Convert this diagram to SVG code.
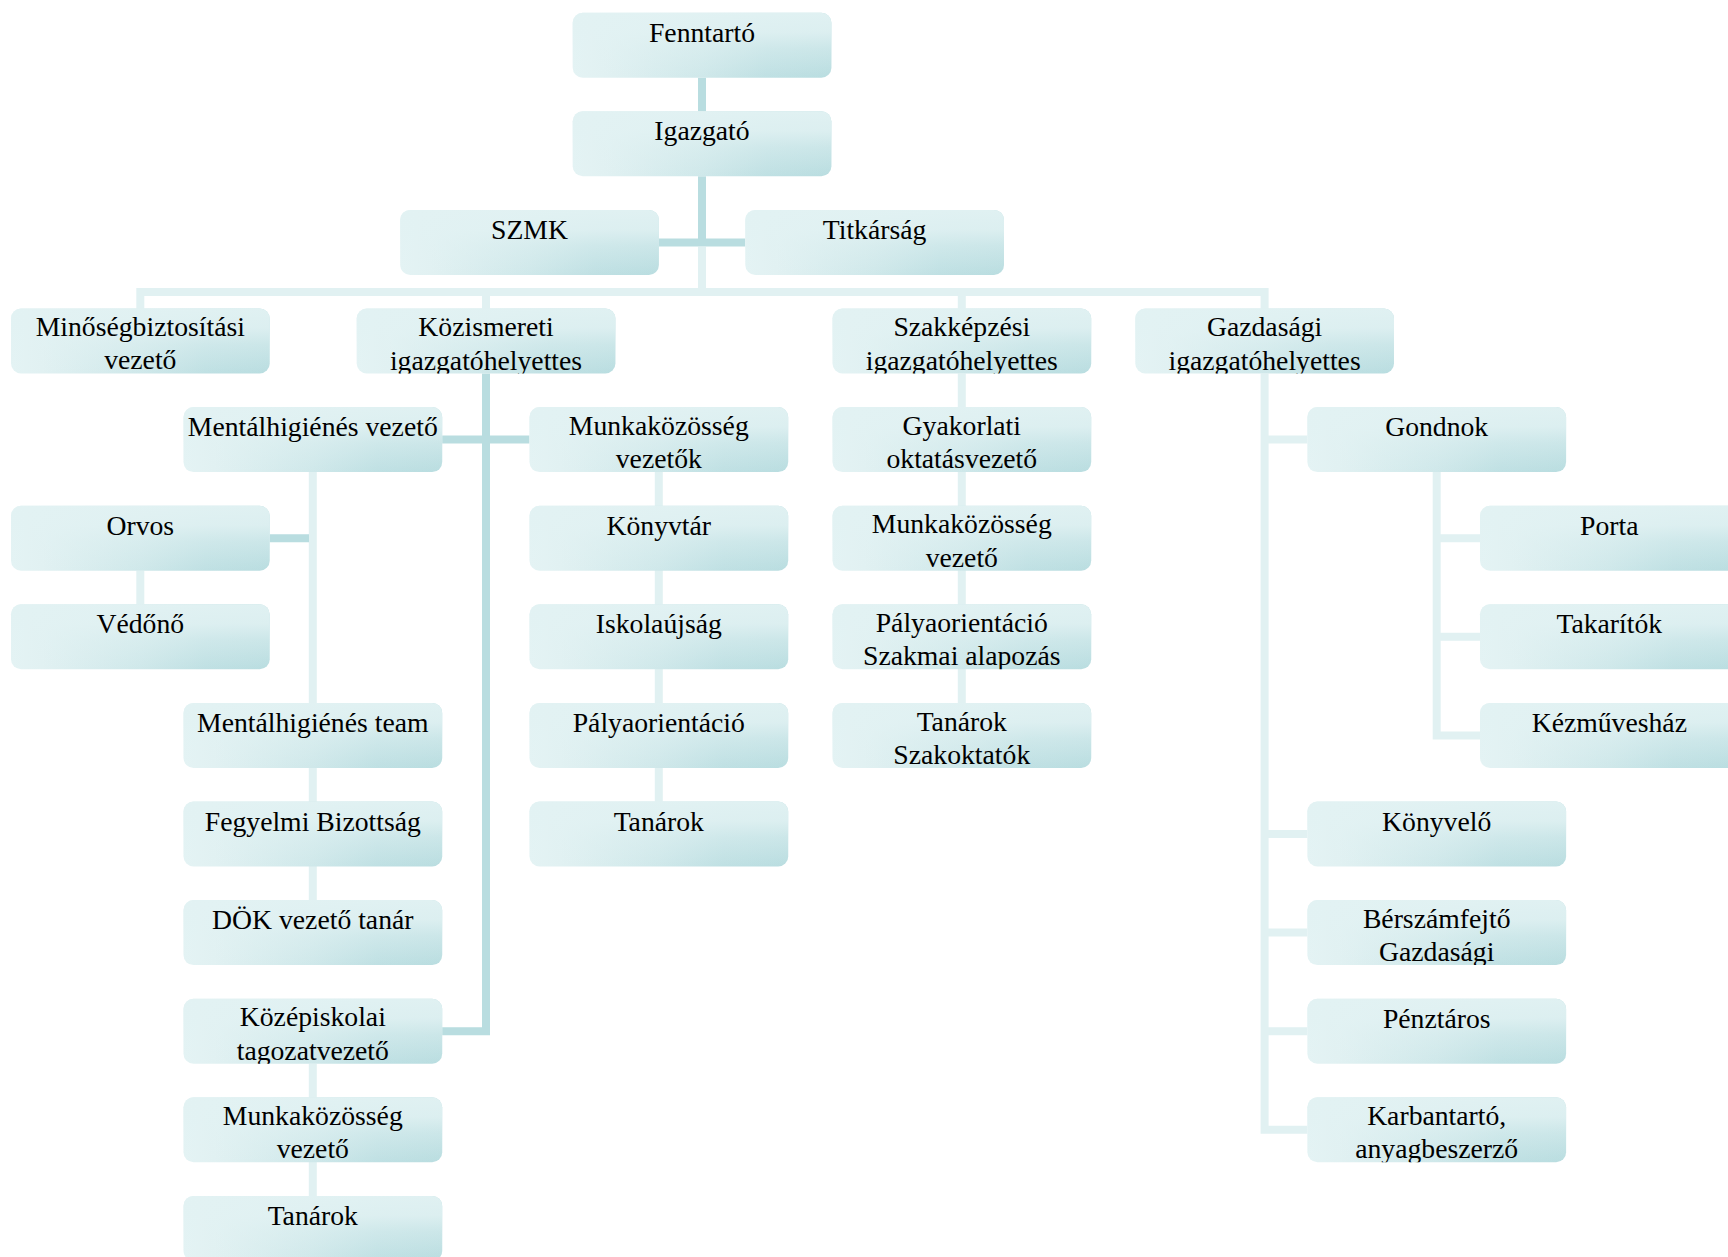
<svg xmlns="http://www.w3.org/2000/svg" width="1728" height="1257" viewBox="0 0 1728 1257">
<style>
.bx{fill:url(#gH)}
.sh{fill:url(#gV)}
.t{font-family:"Liberation Serif","Times New Roman",serif;font-size:27.7px;fill:#000;text-anchor:middle}
.dk{fill:none;stroke:#b9dde0;stroke-width:8;stroke-linejoin:miter}
.lt{fill:none;stroke:#e1f1f2;stroke-width:8;stroke-linejoin:miter}
</style>
<defs>
<linearGradient id="gH" x1="0" y1="0" x2="1" y2="0">
<stop offset="0" stop-color="#e4f3f4"/>
<stop offset="0.12" stop-color="#e1f1f2"/>
<stop offset="0.5" stop-color="#cfe8ea"/>
<stop offset="0.75" stop-color="#bfe0e3"/>
<stop offset="1" stop-color="#b9dde0"/>
</linearGradient>
<linearGradient id="gV" x1="0" y1="0" x2="0" y2="1">
<stop offset="0" stop-color="#e2f2f3" stop-opacity="0.95"/>
<stop offset="0.3" stop-color="#e2f2f3" stop-opacity="0.85"/>
<stop offset="0.55" stop-color="#e2f2f3" stop-opacity="0.45"/>
<stop offset="1" stop-color="#e2f2f3" stop-opacity="0"/>
</linearGradient>
<clipPath id="c6"><rect x="356.7" y="308.5" width="258.7" height="65"/></clipPath>
<clipPath id="c7"><rect x="832.5" y="308.5" width="258.7" height="65"/></clipPath>
<clipPath id="c8"><rect x="1135.3" y="308.5" width="258.7" height="65"/></clipPath>
<clipPath id="c19"><rect x="832.5" y="604.3" width="258.7" height="65"/></clipPath>
<clipPath id="c29"><rect x="1307.4" y="900.1" width="258.7" height="65"/></clipPath>
<clipPath id="c30"><rect x="183.5" y="998.7" width="258.7" height="65"/></clipPath>
<clipPath id="c33"><rect x="1307.4" y="1097.3" width="258.7" height="65"/></clipPath>
</defs>
<rect x="0" y="0" width="1728" height="1257" fill="#ffffff"/>

<g id="connectors">
<path class="dk" d="M702,77.7 V111.3"/>
<path class="dk" d="M702,176.3 V246.4"/>
<path class="dk" d="M658.9,242.4 H745.3"/>
<path class="lt" d="M702,246.4 V292"/>
<path class="lt" d="M140.3,308.5 V292 H1264.6 V308.5"/>
<path class="lt" d="M486,292 V308.5"/>
<path class="lt" d="M961.8,292 V308.5"/>
<path class="lt" d="M312.8,472.1 V900.1"/>
<path class="lt" d="M312.8,1063.7 V1195.9"/>
<path class="dk" d="M269.7,538.2 H309"/>
<path class="lt" d="M140.3,570.7 V604.3"/>
<path class="dk" d="M486,373.5 V1031.2 H442.2"/>
<path class="dk" d="M442.2,439.6 H529.5"/>
<path class="lt" d="M658.8,472.1 V801.5"/>
<path class="lt" d="M961.8,373.5 V702.9"/>
<path class="lt" d="M1264.6,373.5 V1129.8 H1307.4"/>
<path class="lt" d="M1264.6,439.6 H1307.4"/>
<path class="lt" d="M1264.6,834 H1307.4"/>
<path class="lt" d="M1264.6,932.6 H1307.4"/>
<path class="lt" d="M1264.6,1031.2 H1307.4"/>
<path class="lt" d="M1436.7,472.1 V735.4 H1480"/>
<path class="lt" d="M1436.7,538.2 H1480"/>
<path class="lt" d="M1436.7,636.8 H1480"/>
</g>

<g id="n1"><rect class="bx" x="572.7" y="12.7" width="258.7" height="65" rx="10"/><rect class="sh" x="572.7" y="12.7" width="258.7" height="65" rx="10"/><text class="t" x="702" y="41.7">Fenntartó</text></g>
<g id="n2"><rect class="bx" x="572.7" y="111.3" width="258.7" height="65" rx="10"/><rect class="sh" x="572.7" y="111.3" width="258.7" height="65" rx="10"/><text class="t" x="702" y="140.3">Igazgató</text></g>
<g id="n3"><rect class="bx" x="400.2" y="209.9" width="258.7" height="65" rx="10"/><rect class="sh" x="400.2" y="209.9" width="258.7" height="65" rx="10"/><text class="t" x="529.5" y="238.9">SZMK</text></g>
<g id="n4"><rect class="bx" x="745.3" y="209.9" width="258.7" height="65" rx="10"/><rect class="sh" x="745.3" y="209.9" width="258.7" height="65" rx="10"/><text class="t" x="874.6" y="238.9">Titkárság</text></g>
<g id="n5"><rect class="bx" x="11" y="308.5" width="258.7" height="65" rx="10"/><rect class="sh" x="11" y="308.5" width="258.7" height="65" rx="10"/><text class="t"><tspan x="140.3" y="336.2">Minőségbiztosítási</tspan><tspan x="140.3" y="369.3">vezető</tspan></text></g>
<g id="n6"><rect class="bx" x="356.7" y="308.5" width="258.7" height="65" rx="10"/><rect class="sh" x="356.7" y="308.5" width="258.7" height="65" rx="10"/><text class="t" clip-path="url(#c6)"><tspan x="486" y="336.2">Közismereti</tspan><tspan x="486" y="369.6">igazgatóhelyettes</tspan></text></g>
<g id="n7"><rect class="bx" x="832.5" y="308.5" width="258.7" height="65" rx="10"/><rect class="sh" x="832.5" y="308.5" width="258.7" height="65" rx="10"/><text class="t" clip-path="url(#c7)"><tspan x="961.8" y="336.2">Szakképzési</tspan><tspan x="961.8" y="369.6">igazgatóhelyettes</tspan></text></g>
<g id="n8"><rect class="bx" x="1135.3" y="308.5" width="258.7" height="65" rx="10"/><rect class="sh" x="1135.3" y="308.5" width="258.7" height="65" rx="10"/><text class="t" clip-path="url(#c8)"><tspan x="1264.6" y="336.2">Gazdasági</tspan><tspan x="1264.6" y="369.6">igazgatóhelyettes</tspan></text></g>
<g id="n9"><rect class="bx" x="183.5" y="407.1" width="258.7" height="65" rx="10"/><rect class="sh" x="183.5" y="407.1" width="258.7" height="65" rx="10"/><text class="t" x="312.8" y="436.1">Mentálhigiénés vezető</text></g>
<g id="n10"><rect class="bx" x="529.5" y="407.1" width="258.7" height="65" rx="10"/><rect class="sh" x="529.5" y="407.1" width="258.7" height="65" rx="10"/><text class="t"><tspan x="658.8" y="434.8">Munkaközösség</tspan><tspan x="658.8" y="467.9">vezetők</tspan></text></g>
<g id="n11"><rect class="bx" x="832.5" y="407.1" width="258.7" height="65" rx="10"/><rect class="sh" x="832.5" y="407.1" width="258.7" height="65" rx="10"/><text class="t"><tspan x="961.8" y="434.8">Gyakorlati</tspan><tspan x="961.8" y="467.9">oktatásvezető</tspan></text></g>
<g id="n12"><rect class="bx" x="1307.4" y="407.1" width="258.7" height="65" rx="10"/><rect class="sh" x="1307.4" y="407.1" width="258.7" height="65" rx="10"/><text class="t" x="1436.7" y="436.1">Gondnok</text></g>
<g id="n13"><rect class="bx" x="11" y="505.7" width="258.7" height="65" rx="10"/><rect class="sh" x="11" y="505.7" width="258.7" height="65" rx="10"/><text class="t" x="140.3" y="534.7">Orvos</text></g>
<g id="n14"><rect class="bx" x="529.5" y="505.7" width="258.7" height="65" rx="10"/><rect class="sh" x="529.5" y="505.7" width="258.7" height="65" rx="10"/><text class="t" x="658.8" y="534.7">Könyvtár</text></g>
<g id="n15"><rect class="bx" x="832.5" y="505.7" width="258.7" height="65" rx="10"/><rect class="sh" x="832.5" y="505.7" width="258.7" height="65" rx="10"/><text class="t"><tspan x="961.8" y="533.4">Munkaközösség</tspan><tspan x="961.8" y="566.5">vezető</tspan></text></g>
<g id="n16"><rect class="bx" x="1480" y="505.7" width="258.7" height="65" rx="10"/><rect class="sh" x="1480" y="505.7" width="258.7" height="65" rx="10"/><text class="t" x="1609.3" y="534.7">Porta</text></g>
<g id="n17"><rect class="bx" x="11" y="604.3" width="258.7" height="65" rx="10"/><rect class="sh" x="11" y="604.3" width="258.7" height="65" rx="10"/><text class="t" x="140.3" y="633.3">Védőnő</text></g>
<g id="n18"><rect class="bx" x="529.5" y="604.3" width="258.7" height="65" rx="10"/><rect class="sh" x="529.5" y="604.3" width="258.7" height="65" rx="10"/><text class="t" x="658.8" y="633.3">Iskolaújság</text></g>
<g id="n19"><rect class="bx" x="832.5" y="604.3" width="258.7" height="65" rx="10"/><rect class="sh" x="832.5" y="604.3" width="258.7" height="65" rx="10"/><text class="t" clip-path="url(#c19)"><tspan x="961.8" y="632">Pályaorientáció</tspan><tspan x="961.8" y="665.4">Szakmai alapozás</tspan></text></g>
<g id="n20"><rect class="bx" x="1480" y="604.3" width="258.7" height="65" rx="10"/><rect class="sh" x="1480" y="604.3" width="258.7" height="65" rx="10"/><text class="t" x="1609.3" y="633.3">Takarítók</text></g>
<g id="n21"><rect class="bx" x="183.5" y="702.9" width="258.7" height="65" rx="10"/><rect class="sh" x="183.5" y="702.9" width="258.7" height="65" rx="10"/><text class="t" x="312.8" y="731.9">Mentálhigiénés team</text></g>
<g id="n22"><rect class="bx" x="529.5" y="702.9" width="258.7" height="65" rx="10"/><rect class="sh" x="529.5" y="702.9" width="258.7" height="65" rx="10"/><text class="t" x="658.8" y="731.9">Pályaorientáció</text></g>
<g id="n23"><rect class="bx" x="832.5" y="702.9" width="258.7" height="65" rx="10"/><rect class="sh" x="832.5" y="702.9" width="258.7" height="65" rx="10"/><text class="t"><tspan x="961.8" y="730.6">Tanárok</tspan><tspan x="961.8" y="763.7">Szakoktatók</tspan></text></g>
<g id="n24"><rect class="bx" x="1480" y="702.9" width="258.7" height="65" rx="10"/><rect class="sh" x="1480" y="702.9" width="258.7" height="65" rx="10"/><text class="t" x="1609.3" y="731.9">Kézművesház</text></g>
<g id="n25"><rect class="bx" x="183.5" y="801.5" width="258.7" height="65" rx="10"/><rect class="sh" x="183.5" y="801.5" width="258.7" height="65" rx="10"/><text class="t" x="312.8" y="830.5">Fegyelmi Bizottság</text></g>
<g id="n26"><rect class="bx" x="529.5" y="801.5" width="258.7" height="65" rx="10"/><rect class="sh" x="529.5" y="801.5" width="258.7" height="65" rx="10"/><text class="t" x="658.8" y="830.5">Tanárok</text></g>
<g id="n27"><rect class="bx" x="1307.4" y="801.5" width="258.7" height="65" rx="10"/><rect class="sh" x="1307.4" y="801.5" width="258.7" height="65" rx="10"/><text class="t" x="1436.7" y="830.5">Könyvelő</text></g>
<g id="n28"><rect class="bx" x="183.5" y="900.1" width="258.7" height="65" rx="10"/><rect class="sh" x="183.5" y="900.1" width="258.7" height="65" rx="10"/><text class="t" x="312.8" y="929.1">DÖK vezető tanár</text></g>
<g id="n29"><rect class="bx" x="1307.4" y="900.1" width="258.7" height="65" rx="10"/><rect class="sh" x="1307.4" y="900.1" width="258.7" height="65" rx="10"/><text class="t" clip-path="url(#c29)"><tspan x="1436.7" y="927.8">Bérszámfejtő</tspan><tspan x="1436.7" y="961.2">Gazdasági</tspan></text></g>
<g id="n30"><rect class="bx" x="183.5" y="998.7" width="258.7" height="65" rx="10"/><rect class="sh" x="183.5" y="998.7" width="258.7" height="65" rx="10"/><text class="t" clip-path="url(#c30)"><tspan x="312.8" y="1026.4">Középiskolai</tspan><tspan x="312.8" y="1059.8">tagozatvezető</tspan></text></g>
<g id="n31"><rect class="bx" x="1307.4" y="998.7" width="258.7" height="65" rx="10"/><rect class="sh" x="1307.4" y="998.7" width="258.7" height="65" rx="10"/><text class="t" x="1436.7" y="1027.7">Pénztáros</text></g>
<g id="n32"><rect class="bx" x="183.5" y="1097.3" width="258.7" height="65" rx="10"/><rect class="sh" x="183.5" y="1097.3" width="258.7" height="65" rx="10"/><text class="t"><tspan x="312.8" y="1125">Munkaközösség</tspan><tspan x="312.8" y="1158.1">vezető</tspan></text></g>
<g id="n33"><rect class="bx" x="1307.4" y="1097.3" width="258.7" height="65" rx="10"/><rect class="sh" x="1307.4" y="1097.3" width="258.7" height="65" rx="10"/><text class="t" clip-path="url(#c33)"><tspan x="1436.7" y="1125">Karbantartó,</tspan><tspan x="1436.7" y="1158.4">anyagbeszerző</tspan></text></g>
<g id="n34"><rect class="bx" x="183.5" y="1195.9" width="258.7" height="65" rx="10"/><rect class="sh" x="183.5" y="1195.9" width="258.7" height="65" rx="10"/><text class="t" x="312.8" y="1224.9">Tanárok</text></g>
</svg>
